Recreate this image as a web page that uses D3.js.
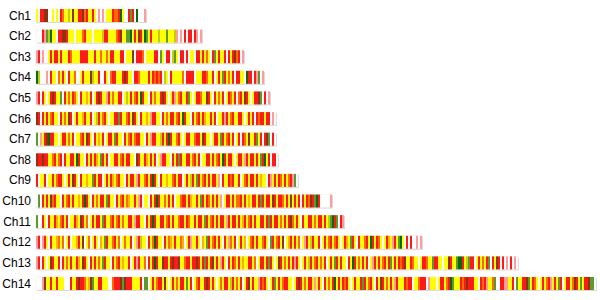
<!DOCTYPE html>
<html>
<head>
<meta charset="utf-8">
<script src="https://cdn.jsdelivr.net/npm/d3@7"></script>
<style>
body { margin: 0; background: #fff; }
</style>
</head>
<body>
<div id="chart"></div>
<script>
// chromosome names and lengths (1 unit = one band slot)
var chromNames = ["Ch1","Ch2","Ch3","Ch4","Ch5","Ch6","Ch7","Ch8","Ch9","Ch10","Ch11","Ch12","Ch13","Ch14"];
var chromLen = [55, 83, 104, 114, 117, 120, 120, 121, 131, 148, 154, 193, 241, 280];

// one letter per slot, read from left to right (spaces only for counting)
var bands = [
  "YWRRBBWWYW YWROYYLYBY YRRBORYYRY WPWPWYYYRO ORDYWWRGRW DWWWP",
  "WWWRPGLDYY WRRBBRYYYW YYYORYYYWY YYYLRRYYYY ORBYYGGDYR YBRYDGYRYY YLYYYGYYYL PWPWRWRRWR PWP",
  "PRWPWWYRYR RYRYYYROYY YYRRRRYYYR YYOYYOYRRY YYRRWYYYBW RRROWYYYYR RWGYWRRWLG YWRRWRWYYW RRYRYOYWRG YRYYRWRYRB ORWP",
  "DLWWWPWRYY WOYRYWRYYO WWYRYYYBLY YRWWRYWORR YYYRBRYYWR ROYYYYRYRO RORWLYWRYY YYYOWRRRRW YYYRROYYRW YRYGRYOYRW RRYYWDRRWR PGWP",
  "PRWRYWYRBR YYGWRYOYRO YWRYYAYRWY RBRYYPRYOY YRRWYLYRYO RYDRYYWRYO YYRBRYWYRP YORYYRGYWY RROYYBRYWR YOYRWYR OYRWORYBRY WYRRBGWRWP",
  "BRWRYRYORY YWRYOYBRWY RYYARYYRWY LRYORYWYYR RGRYYORYBR YWRYYAYPRR YYWRYOYRRY ORYDRYYWRY ORYRAYYRYR WYYRPRYORY YRRYWYRYRW RORRYRRWPW",
  "GWPYRBDRRY YWYRRYOYRW YYORYBRYWR YAYRWYRRYG RYYWRYORYO RRYYWRYPRR YYLRYRDRYY ORYWYRRYYO RRYBRYYWYR RYGRYORYRW YRWROYBYYR GYRWRBGWRW",
  "BRRBRRYYOR YORWRYYRRY DRYYWRYRYR AYGRYRWYYR RYORYRRYYW BRYYRAYRYR WYPRRYYWRY RGRYYRRYOR YRWYYRRYRY ORYDRYRRYW YRRYPRYRRY RYGRDYRWRR W",
  "RWYYRWYYRY ORRYWYRYBR YWRYYAYYGR YRRWYRYRAY ORYYWRYRRY PRYYORYRDR YWRYYAYYOR YRRWYRYLRY GRYORYRYRR YPWRYYRORY YRWYORYRRY RYAYYWRPYR YR OYRYORPGW",
  "WGWRYRYBOR YYWRYORYRY YAYRDRYWRY OYRRYGRYYW RYORYOAYYR YPRWYYWRYR DRYYOYRYRW YYORRYRAYY RYGRYROYRY RYPWYRRYRY OORYRYAYRR YRGRYRRYBR YR ROYRYBYRYR WRYROBRGDR WWWWWP",
  "GWWRYWRYYR AYORYRWYYR AYBRYOWYRY RRYGRYYORY ORYOYYRRYP RRYYWRYRDR YYRRYORYRY YORRYROYYR YRRYGRYORY RYRRYPRYRR YRYARYORYR YYRRYRGRYR RY OYRYRBOYRY WRYYRRYOYR RYRYLGDRGW RP",
  "PRWPRYWRYY AOYOWYRWYY ARYBWYOWYR YWAYGRYYOR YOWYOYYRWY PRLYYWRYOD RYYWRYOAYR YYOAWYRPYY RYWAYGRYOR YRYWRYPOYR WYRYAWYORY RYYORYWGRY ORYBWYARYR YOWYPRYLRY YRWYRYORYO RYWYRAYGRY WRYYORYDRY ROYWYRAYPR YG DYWRWRWWPWP",
  "PRWRYWYBRY YRWRYOYRYY RAYBRYWRYR YOYGRYYWRY ORYAYYRWYR PRYYOWRYRD RYYBRRYRBR RBYYORRYRR BRYRGRYRBY RYPRYWRYRO YRYAYYRRYO WYRRYRGRYW YBRYOYRYRP RYWYRYLRYO RYOYRWYRYG RYRYYWRYDR YOYRYRWYPR YRYORYRGYR YR ORBYYROYYW YRROYYGRRY YWYYBRYYGD DRYLGRRWYR YOYRGWRYBR WRWPWRWPW",
  "WWWPBYYRYY RYYYWWWRYY RBRROYABGY YRRYYYWWOR RRBGBRRRYY YYRWGGW YRYORRYBYW YRYOYRRYGY RWYORYYRBR YRYWYOYRRY LRYOYRWYRB YRYYPRORYW YRGYRYORRY YWYRBRYOYR RYPYRYWRYO YRDYRYRORY WYRYYRGRYO RYWRYBRYOY RYPRY YYRORRWYYO RRRWPYYYWY RRYORDGYYY RORBRRRYYW RORPYYOGWW RRPPYYRWGY YRRBGYROYW YRYORPYRYG RWYRRYOBRY GYRRBGGW"
];

// palette for band letters
var colorKeys = ["W","P","R","O","A","Y","L","G","D","B"];
var colorValues = ["#ffffff","#ff9c9c","#ff1a1a","#ff6a00","#ffb000","#ffff00","#c2cc10","#5c9a30","#0a6a0a","#8a3410"];
var bandColor = d3.scaleOrdinal().domain(colorKeys).range(colorValues);

var width = 600, height = 300;
var stripH = 13;

var svg = d3.select("#chart").append("svg")
    .attr("width", width)
    .attr("height", height);

var x = d3.scaleLinear()
    .domain([0, d3.max(chromLen)])
    .range([36, 596]);

var y = d3.scalePoint()
    .domain(chromNames)
    .range([9, 277]);

var rows = svg.selectAll("g.row")
    .data(chromNames)
    .enter().append("g")
    .attr("class", "row")
    .attr("transform", function (d) { return "translate(0," + y(d) + ")"; });

// label
rows.append("text")
    .attr("x", 31)
    .attr("y", stripH / 2 + 4)
    .attr("text-anchor", "end")
    .style("font-family", "Liberation Sans, Arial, Helvetica, sans-serif")
    .style("font-size", "12px")
    .style("fill", "#000")
    .text(function (d) { return d; });

// shadow + strip background
rows.append("rect")
    .attr("x", x(0) + 1)
    .attr("y", 1)
    .attr("width", function (d, i) { return x(chromLen[i]) - x(0); })
    .attr("height", stripH)
    .style("fill", "#d6d6d6");
rows.append("rect")
    .attr("x", x(0))
    .attr("y", 0)
    .attr("width", function (d, i) { return x(chromLen[i]) - x(0); })
    .attr("height", stripH)
    .style("fill", "#fff")
    .style("stroke", "#ececec")
    .style("stroke-width", 0.5);

// bands
rows.each(function (name, i) {
    var s = bands[i].replace(/ /g, "").slice(0, chromLen[i]).split("");
    var cells = s.map(function (c, k) { return { c: c, k: k }; })
        .filter(function (d) { return d.c !== "W"; });
    d3.select(this).selectAll("rect.band")
        .data(cells)
        .enter().append("rect")
        .attr("class", "band")
        .attr("x", function (d) { return x(d.k); })
        .attr("y", 0)
        .attr("width", function (d) { return x(d.k + 1) - x(d.k); })
        .attr("height", stripH)
        .style("fill", function (d) { return bandColor(d.c); });
});
</script>
</body>
</html>
